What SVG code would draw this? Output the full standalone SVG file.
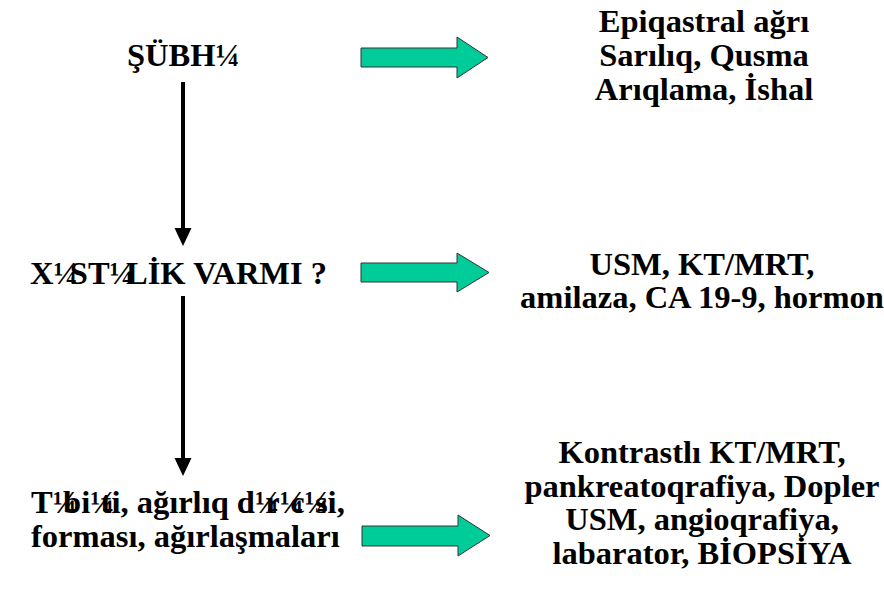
<svg xmlns="http://www.w3.org/2000/svg" width="884" height="594" viewBox="0 0 884 594">
<style>
.t text{font-family:"Times New Roman","Liberation Serif",Tinos,serif;font-weight:bold;font-size:32.5px;fill:#000}
.r{text-anchor:middle}
.ga{fill:#00CC99;stroke:#333;stroke-width:1}
.vl{stroke:#000;stroke-width:4}
</style>
<rect width="884" height="594" fill="#fff"/>
<g id="connectors">
<line class="vl" x1="183" y1="82" x2="183" y2="230"/>
<polygon points="174.5,228 191.5,228 183,246" fill="#000"/>
<line class="vl" x1="183" y1="296" x2="183" y2="460"/>
<polygon points="174.5,458 191.5,458 183,476" fill="#000"/>
<polygon class="ga" points="361,48 457,48 457,37 488,57.5 457,78 457,67 361,67"/>
<polygon class="ga" points="361,263 457,263 457,253 489,272.5 457,292 457,282 361,282"/>
<polygon class="ga" points="362,526 458,526 458,515 490,535.5 458,556 458,546 362,546"/>
</g>
<g class="t">
<g id="n1"><text x="127" y="66">ŞÜBH¼</text></g>
<g id="n2"><text x="30" y="284">X¼<tspan dx="-8">S</tspan>T¼<tspan dx="-8">L</tspan>İK VARMI ?</text></g>
<g id="n3"><text x="31" y="513">T¼<tspan dx="-14">b</tspan>i¼<tspan dx="-14">t</tspan>i, ağırlıq d¼<tspan dx="-14">r</tspan>¼<tspan dx="-14">c</tspan>¼<tspan dx="-14">s</tspan>i,</text>
<text x="31" y="547">forması, ağırlaşmaları</text></g>
<g id="r1"><text class="r" x="704" y="32">Epiqastral ağrı</text><text class="r" x="704" y="66">Sarılıq, Qusma</text><text class="r" x="704" y="100">Arıqlama, İshal</text></g>
<g id="r2"><text class="r" x="702" y="275">USM, KT/MRT,</text><text class="r" x="702" y="308">amilaza, CA 19-9, hormon</text></g>
<g id="r3"><text class="r" x="702" y="463">Kontrastlı KT/MRT,</text><text class="r" x="702" y="497">pankreatoqrafiya, Dopler</text><text class="r" x="702" y="530">USM, angioqrafiya,</text><text class="r" x="702" y="564">labarator, BİOPSİYA</text></g>
</g>
</svg>
